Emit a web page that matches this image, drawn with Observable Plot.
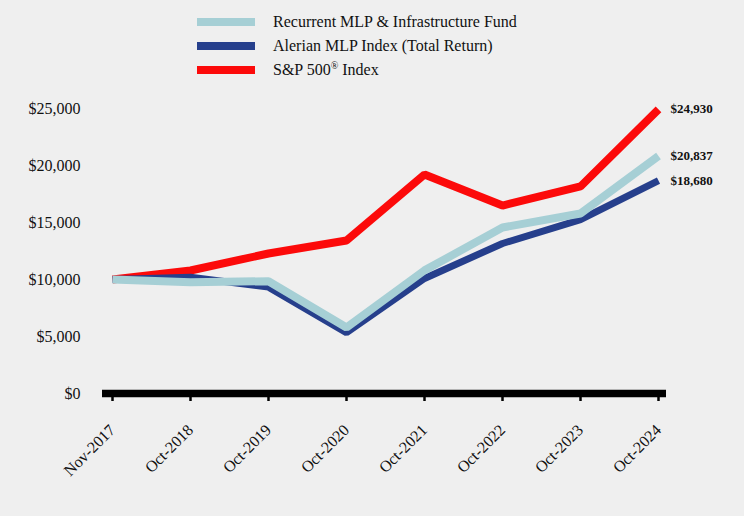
<!DOCTYPE html>
<html><head><meta charset="utf-8">
<script src="https://cdn.jsdelivr.net/npm/d3@7"></script>
<script src="https://cdn.jsdelivr.net/npm/@observablehq/plot@0.6"></script>
<style>
html,body{margin:0;padding:0;background:#efefef;}
#wrap{width:744px;height:516px;position:relative;font-family:"Liberation Serif","Times New Roman",serif;}
#legend{position:relative;height:90px;width:744px;}
.row{position:absolute;left:197px;height:24px;display:flex;align-items:center;font-size:16px;color:#111;}
.sw{width:58px;height:8px;margin-right:18px;}
sup{font-size:10px;line-height:0;}
#chart svg, #chart svg text{font-family:"Liberation Serif","Times New Roman",serif !important;}
</style></head>
<body><div id="wrap"><div id="legend"></div><div id="chart"></div></div>
<script>
const periods = ["Nov-2017","Oct-2018","Oct-2019","Oct-2020","Oct-2021","Oct-2022","Oct-2023","Oct-2024"];
const fundValues = [10000, 9760, 9850, 5790, 10800, 14560, 15790, 20837];
const alerianValues = [10000, 10200, 9330, 5330, 10090, 13160, 15260, 18680];
const spValues = [10000, 10790, 12280, 13420, 19210, 16490, 18160, 24930];
const seriesNames = ["Recurrent MLP & Infrastructure Fund", "Alerian MLP Index (Total Return)", "S&P 500® Index"];
const seriesColors = ["#a6cfd5", "#263f8c", "#fc0a0a"];
const yTicks = [0, 5000, 10000, 15000, 20000, 25000];

const legend = document.getElementById("legend");
const legendLabels = ["Recurrent MLP &amp; Infrastructure Fund", "Alerian MLP Index (Total Return)", "S&amp;P 500<sup>®</sup> Index"];
legendLabels.forEach((lab, i) => {
  const r = document.createElement("div");
  r.className = "row";
  r.style.top = (10 + i * 24) + "px";
  r.innerHTML = `<span class="sw" style="background:${seriesColors[i]}"></span><span>${lab}</span>`;
  legend.appendChild(r);
});

const allSeries = [fundValues, alerianValues, spValues];
const data = [];
allSeries.forEach((vals, s) => vals.forEach((v, i) => data.push({series: seriesNames[s], period: periods[i], value: v})));
const bySeries = name => data.filter(d => d.series === name);
const lastPoints = data.filter(d => d.period === periods[periods.length - 1]);

const chart = Plot.plot({
  width: 744,
  height: 426,
  marginLeft: 110,
  marginRight: 85,
  marginTop: 18,
  marginBottom: 123,
  style: {background: "#efefef", fontSize: "16px", color: "#111"},
  x: {type: "point", domain: periods, padding: 0, label: null},
  y: {domain: [0, 25000], label: null},
  marks: [
    Plot.axisY({ticks: yTicks, tickSize: 0, tickPadding: 30, tickFormat: d => "$" + d3.format(",")(d), fontSize: 16}),
    Plot.axisX({tickSize: 8, tickPadding: 26, tickRotate: -45, fontSize: 16, strokeWidth: 2.5, stroke: "#000"}),
    Plot.ruleY([0], {stroke: "#000", strokeWidth: 7.5, insetLeft: -8, insetRight: -7}),
    Plot.line(bySeries(seriesNames[2]), {x: "period", y: "value", stroke: seriesColors[2], strokeWidth: 8, strokeLinecap: "butt", strokeLinejoin: "miter"}),
    Plot.line(bySeries(seriesNames[1]), {x: "period", y: "value", stroke: seriesColors[1], strokeWidth: 7, strokeLinecap: "butt", strokeLinejoin: "miter"}),
    Plot.line(bySeries(seriesNames[0]), {x: "period", y: "value", stroke: seriesColors[0], strokeWidth: 8, strokeLinecap: "butt", strokeLinejoin: "miter"}),
    Plot.text(lastPoints, {x: "period", y: "value", text: d => "$" + d3.format(",")(d.value), dx: 12, textAnchor: "start", fontWeight: "bold", fontSize: 13, fill: "#111"})
  ]
});
document.getElementById("chart").appendChild(chart);
</script></body></html>
